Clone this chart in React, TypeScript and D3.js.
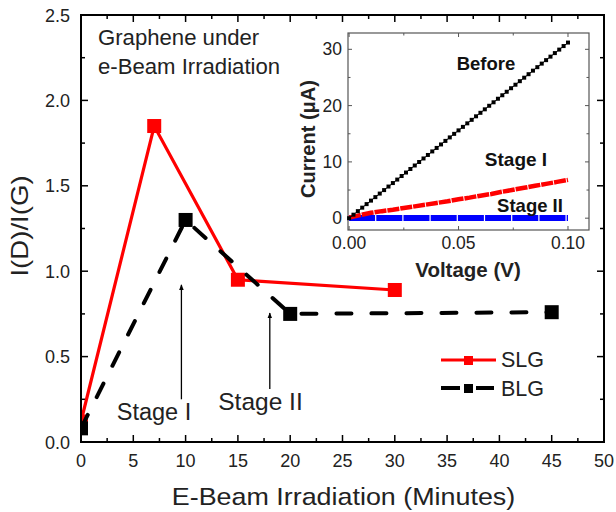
import React from "react";
import * as d3 from "d3";

// ---- Main chart data ----
const slgMinutes = [0, 7, 15, 30];
const slgRatio = [0.12, 1.85, 0.95, 0.89];
const blgMinutes = [0, 10, 20, 45];
const blgRatio = [0.08, 1.3, 0.75, 0.76];
const xTicks = [0, 5, 10, 15, 20, 25, 30, 35, 40, 45, 50];
const yTicks = [0.0, 0.5, 1.0, 1.5, 2.0, 2.5];

// ---- Inset data ----
const beforeV = [
  0, 0.002, 0.004, 0.006, 0.008, 0.01, 0.012, 0.014, 0.016, 0.018, 0.02, 0.022, 0.024, 0.026, 0.028, 0.03,
  0.032, 0.034, 0.036, 0.038, 0.04, 0.042, 0.044, 0.046, 0.048, 0.05, 0.052, 0.054, 0.056, 0.058, 0.06,
  0.062, 0.064, 0.066, 0.068, 0.07, 0.072, 0.074, 0.076, 0.078, 0.08, 0.082, 0.084, 0.086, 0.088, 0.09,
  0.092, 0.094, 0.096, 0.098, 0.1,
];
const beforeI = [
  0, 0.62, 1.25, 1.87, 2.5, 3.12, 3.74, 4.37, 4.99, 5.62, 6.24, 6.86, 7.49, 8.11, 8.74, 9.36, 9.98, 10.61,
  11.23, 11.86, 12.48, 13.1, 13.73, 14.35, 14.98, 15.6, 16.22, 16.85, 17.47, 18.1, 18.72, 19.34, 19.97,
  20.59, 21.22, 21.84, 22.46, 23.09, 23.71, 24.34, 24.96, 25.58, 26.21, 26.83, 27.46, 28.08, 28.7, 29.33,
  29.95, 30.58, 31.2,
];
const stage1V = [
  0, 0.005, 0.01, 0.015, 0.02, 0.025, 0.03, 0.035, 0.04, 0.045, 0.05, 0.055, 0.06, 0.065, 0.07, 0.075,
  0.08, 0.085, 0.09, 0.095, 0.1,
];
const stage1I = [
  0.1, 0.55, 0.95, 1.25, 1.5, 1.8, 2.1, 2.4, 2.7, 3.0, 3.35, 3.65, 4.0, 4.3, 4.7, 5.05, 5.4, 5.75, 6.1,
  6.45, 6.8,
];
const stage2V = [0, 0.01, 0.02, 0.03, 0.04, 0.05, 0.06, 0.07, 0.08, 0.09, 0.1];
const stage2I = [0.02, 0.02, 0.03, 0.03, 0.03, 0.04, 0.04, 0.04, 0.05, 0.05, 0.05];
const insetXTicks = [0, 0.05, 0.1];
const insetYTicks = [0, 10, 20, 30];

const FONT = "Arial, 'Liberation Sans', sans-serif";

function SText(props: {
  x: number;
  y: number;
  sx?: number;
  size: number;
  anchor?: string;
  bold?: boolean;
  fill?: string;
  children: React.ReactNode;
}) {
  const { x, y, sx = 1, size, anchor = "start", bold, fill = "#222", children } = props;
  return (
    <g transform={`translate(${x},${y}) scale(${sx},1)`}>
      <text x={0} y={0} fontSize={size} textAnchor={anchor} fontWeight={bold ? "bold" : "normal"} fill={fill}>
        {children}
      </text>
    </g>
  );
}

export default function App() {
  const W = 616;
  const H = 512;
  const L = 81, R = 604, T = 15, B = 442;
  const x = d3.scaleLinear().domain([0, 50]).range([L, R]);
  const y = d3.scaleLinear().domain([0, 2.5]).range([B, T]);

  const ix = d3.scaleLinear().domain([-0.0005, 0.1096]).range([348, 589]);
  const iy = d3.scaleLinear().domain([-2.1, 32.9]).range([230, 33]);

  const line = d3.line<[number, number]>().x((d) => x(d[0])).y((d) => y(d[1]));
  const iline = d3.line<[number, number]>().x((d) => ix(d[0])).y((d) => iy(d[1]));

  const slg = slgMinutes.map((m, i) => [m, slgRatio[i]] as [number, number]);
  const blg = blgMinutes.map((m, i) => [m, blgRatio[i]] as [number, number]);
  const before = beforeV.map((v, i) => [v, beforeI[i]] as [number, number]);
  const st1 = stage1V.map((v, i) => [v, stage1I[i]] as [number, number]);
  const st2 = stage2V.map((v, i) => [v, stage2I[i]] as [number, number]);

  const xMinor = d3.range(0, 50.01, 2.5);
  const yMinor = d3.range(0, 2.51, 0.25);
  const ixMinor = [0, 0.025, 0.05, 0.075, 0.1];
  const iyMinor = [0, 5, 10, 15, 20, 25, 30];

  const ms = 14;

  return (
    <svg width={W} height={H} style={{ position: "absolute", left: 0, top: 0, background: "#fff" }} fontFamily={FONT}>
      <defs>
        <clipPath id="plotClip">
          <rect x={L} y={T} width={R - L} height={B - T} />
        </clipPath>
        <marker id="arrowHead" viewBox="0 0 10 10" refX="9" refY="5" markerWidth="6" markerHeight="9" orient="auto" markerUnits="userSpaceOnUse">
          <path d="M0,1 L10,5 L0,9 Z" fill="#000" />
        </marker>
      </defs>
      <rect x={0} y={0} width={W} height={H} fill="#fff" />

      {/* ticks main */}
      <g stroke="#000" strokeWidth={1.5}>
        {xMinor.map((t) => {
          const len = xTicks.includes(t) ? 7 : 4;
          return (
            <g key={"xm" + t}>
              <line x1={x(t)} x2={x(t)} y1={B} y2={B - len} />
              <line x1={x(t)} x2={x(t)} y1={T} y2={T + len} />
            </g>
          );
        })}
        {yMinor.map((t) => {
          const major = yTicks.some((v) => Math.abs(v - t) < 1e-6);
          const len = major ? 7 : 4;
          return (
            <g key={"ym" + t}>
              <line x1={L} x2={L + len} y1={y(t)} y2={y(t)} />
              <line x1={R} x2={R - len} y1={y(t)} y2={y(t)} />
            </g>
          );
        })}
      </g>

      {/* data */}
      <g clipPath="url(#plotClip)">
        <path d={line(slg) || ""} fill="none" stroke="#ff0000" strokeWidth={3.2} />
        {slg.map((d, i) => (
          <rect key={"s" + i} x={x(d[0]) - ms / 2} y={y(d[1]) - ms / 2} width={ms} height={ms} fill="#ff0000" />
        ))}
        <path d={line(blg) || ""} fill="none" stroke="#000" strokeWidth={4} strokeDasharray="15,20" strokeLinecap="round" />
        {blg.map((d, i) => (
          <rect key={"b" + i} x={x(d[0]) - ms / 2} y={y(d[1]) - ms / 2} width={ms} height={ms} fill="#000" />
        ))}
      </g>

      {/* frame */}
      <rect x={L} y={T} width={R - L} height={B - T} fill="none" stroke="#000" strokeWidth={2} />

      {/* tick labels */}
      <g fontSize={18} fill="#222">
        {xTicks.map((t) => (
          <text key={"xt" + t} x={x(t)} y={467} textAnchor="middle">{t}</text>
        ))}
        {yTicks.map((t) => (
          <text key={"yt" + t} x={70} y={y(t) + 6.5} textAnchor="end">{t.toFixed(1)}</text>
        ))}
      </g>
      <SText x={(L + R) / 2 + 1} y={505} size={24} sx={1.12} anchor="middle">E-Beam Irradiation (Minutes)</SText>
      <g transform={`translate(28, 226) rotate(-90) scale(1.2,1)`}>
        <text x={0} y={0} fontSize={23} textAnchor="middle" fill="#222">I(D)/I(G)</text>
      </g>

      {/* annotation texts */}
      <SText x={98} y={45} size={21.5} sx={1.03}>Graphene under</SText>
      <SText x={98} y={74} size={21.5} sx={1.03}>e-Beam Irradiation</SText>

      {/* arrows */}
      <line x1={x(9.6)} x2={x(9.6)} y1={y(0.25)} y2={y(0.92)} stroke="#000" strokeWidth={1.3} markerEnd="url(#arrowHead)" />
      <line x1={x(18.05)} x2={x(18.05)} y1={y(0.31)} y2={y(0.755)} stroke="#000" strokeWidth={1.3} markerEnd="url(#arrowHead)" />
      <SText x={154} y={420} size={23.5} anchor="middle">Stage I</SText>
      <SText x={260.5} y={410} size={24.5} anchor="middle">Stage II</SText>

      {/* legend */}
      <g>
        <line x1={441} x2={496} y1={360} y2={360} stroke="#ff0000" strokeWidth={3.2} />
        <rect x={464} y={356} width={9} height={9} fill="#ff0000" />
        <SText x={501} y={367} size={21.5}>SLG</SText>
        <line x1={441} x2={460} y1={388} y2={388} stroke="#000" strokeWidth={4} />
        <line x1={476} x2={494} y1={388} y2={388} stroke="#000" strokeWidth={4} />
        <rect x={464} y={384} width={9} height={9} fill="#000" />
        <SText x={501} y={396} size={21.5}>BLG</SText>
      </g>

      {/* ---- inset ---- */}
      <g>
        <rect x={348} y={33} width={241} height={197} fill="#fff" stroke="#555" strokeWidth={1.2} />
        <g stroke="#555" strokeWidth={1}>
          {ixMinor.map((t) => {
            const len = insetXTicks.some((v) => Math.abs(v - t) < 1e-9) ? 4 : 2.5;
            return (
              <g key={"ixm" + t}>
                <line x1={ix(t)} x2={ix(t)} y1={230} y2={230 - len} />
                <line x1={ix(t)} x2={ix(t)} y1={33} y2={33 + len} />
              </g>
            );
          })}
          {iyMinor.map((t) => {
            const len = insetYTicks.includes(t) ? 4 : 2.5;
            return (
              <g key={"iym" + t}>
                <line x1={348} x2={348 + len} y1={iy(t)} y2={iy(t)} />
                <line x1={589} x2={589 - len} y1={iy(t)} y2={iy(t)} />
              </g>
            );
          })}
        </g>
        <path d={iline(st2) || ""} fill="none" stroke="#0000ff" strokeWidth={6} strokeDasharray="26,1.2" />
        <path d={iline(st1) || ""} fill="none" stroke="#ff0000" strokeWidth={4.5} strokeDasharray="12,1" />
        <path d={iline(before) || ""} fill="none" stroke="#000" strokeWidth={1} />
        {before.map((d, i) => (
          <rect key={"bf" + i} x={ix(d[0]) - 2} y={iy(d[1]) - 2} width={4} height={4} fill="#000" />
        ))}
        <g fontSize={17.5} fill="#222">
          {insetXTicks.map((t) => (
            <text key={"ixt" + t} x={ix(t)} y={249} textAnchor="middle">{t.toFixed(2)}</text>
          ))}
          {insetYTicks.map((t) => (
            <text key={"iyt" + t} x={342} y={iy(t) + 6} textAnchor="end">{t}</text>
          ))}
        </g>
        <SText x={468} y={277} size={20.5} bold anchor="middle">Voltage (V)</SText>
        <g transform={`translate(315, 139) rotate(-90)`}>
          <text x={0} y={0} fontSize={20} fontWeight="bold" textAnchor="middle" fill="#222">Current (μA)</text>
        </g>
        <SText x={486} y={70} size={18.5} bold anchor="middle" fill="#111">Before</SText>
        <SText x={516} y={166} size={19} bold anchor="middle" fill="#111">Stage I</SText>
        <SText x={530} y={212} size={18.5} bold anchor="middle" fill="#111">Stage II</SText>
      </g>
    </svg>
  );
}
